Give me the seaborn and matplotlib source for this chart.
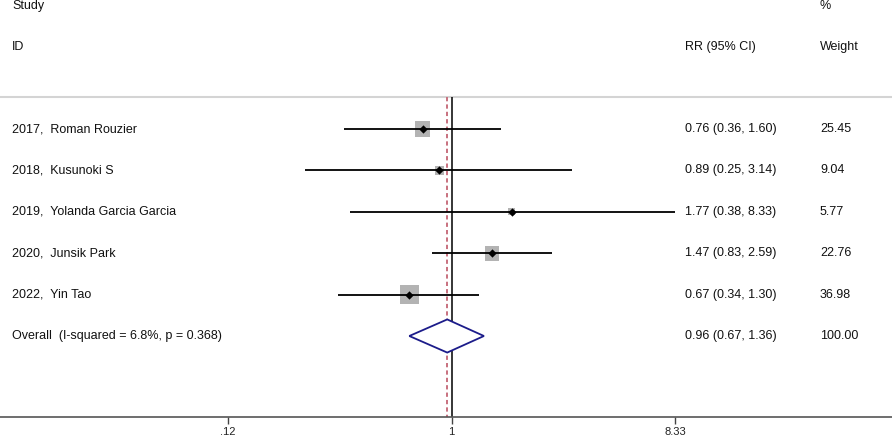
import numpy as np
import pandas as pd
import matplotlib
matplotlib.use("Agg")
import matplotlib.pyplot as plt
import matplotlib.transforms as mtransforms
import seaborn as sns

# datos del forest plot
studies = ["2017,  Roman Rouzier", "2018,  Kusunoki S", "2019,  Yolanda Garcia Garcia",
           "2020,  Junsik Park", "2022,  Yin Tao"]
rr = [0.76, 0.89, 1.77, 1.47, 0.67]
lower = [0.36, 0.25, 0.38, 0.83, 0.34]
upper = [1.60, 3.14, 8.33, 2.59, 1.30]
weights = [25.45, 9.04, 5.77, 22.76, 36.98]
overall_label = "Overall  (I-squared = 6.8%, p = 0.368)"
overall = [0.96, 0.67, 1.36]
overall_weight = 100.00
xtick_vals = [0.12, 1, 8.33]
xtick_labels = [".12", "1", "8.33"]

sns.set_theme(style="white")
plt.rcParams["font.family"] = ["Liberation Sans", "DejaVu Sans"]

W, H = 892, 441
fig = plt.figure(figsize=(W / 100, H / 100), dpi=100)
ax = fig.add_axes([0, 24 / H, 1, 417 / H])

row_h = 41.4
def yrow(px):
    return (px - 129) / row_h

df = pd.DataFrame({"study": studies, "rr": rr, "lo": lower, "hi": upper,
                   "w": weights, "row": np.arange(len(studies))})

# lineas de referencia
top_sep = yrow(97)
ax.vlines(1, top_sep, yrow(417), color="black", lw=1.1, zorder=2)
ax.vlines(overall[0], top_sep, yrow(417), color="#c8707e", lw=1.4,
          linestyles=(0, (2.2, 1.6)), zorder=2)
ax.axhline(top_sep, color="#d4d4d4", lw=1.5, zorder=1)

# cajas grises segun peso
sns.scatterplot(data=df, x="rr", y="row", marker="s", color="#b3b3b3",
                s=df["w"] * 4.9, linewidth=0, legend=False, ax=ax, zorder=3)
ax.hlines(df["row"], df["lo"], df["hi"], color="black", lw=1.3, zorder=4)
sns.scatterplot(data=df, x="rr", y="row", marker="D", color="black",
                s=18, linewidth=0, legend=False, ax=ax, zorder=5)

# diamante del efecto global
oy = len(studies)
dh = 0.40
ax.fill([overall[1], overall[0], overall[2], overall[0]],
        [oy, oy - dh, oy, oy + dh], facecolor="white", edgecolor="#1c1c8a",
        lw=1.3, zorder=5)

# escala log
ax.set_xscale("log")
ax.set_xlim(0.01379, 65.3)
ax.set_ylim(yrow(417), yrow(0))
ax.set_xticks(xtick_vals)
ax.set_xticklabels(xtick_labels, fontsize=8, color="#222222")
ax.minorticks_off()
ax.tick_params(axis="x", which="major", direction="out", length=5, width=1,
               color="#444444", bottom=True, pad=2)
ax.set_yticks([])
ax.set_xlabel("")
ax.set_ylabel("")
for s in ["top", "left", "right"]:
    ax.spines[s].set_visible(False)
ax.spines["bottom"].set_color("#555555")
ax.spines["bottom"].set_linewidth(1.2)

# textos
tr = mtransforms.blended_transform_factory(ax.transAxes, ax.transData)
fs = 9
tc = "#111111"
def put(px, y, s):
    ax.text(px / W, y, s, transform=tr, ha="left", va="center", fontsize=fs, color=tc)

put(12, yrow(6), "Study")
put(12, yrow(47), "ID")
put(685, yrow(47), "RR (95% CI)")
put(820, yrow(6), "%")
put(820, yrow(47), "Weight")
for i in range(len(studies)):
    put(12, i, studies[i])
    put(685, i, f"{rr[i]:.2f} ({lower[i]:.2f}, {upper[i]:.2f})")
    put(820, i, f"{weights[i]:.2f}")
put(12, oy, overall_label)
put(685, oy, f"{overall[0]:.2f} ({overall[1]:.2f}, {overall[2]:.2f})")
put(820, oy, f"{overall_weight:.2f}")

fig.savefig("out.png", dpi=100)
